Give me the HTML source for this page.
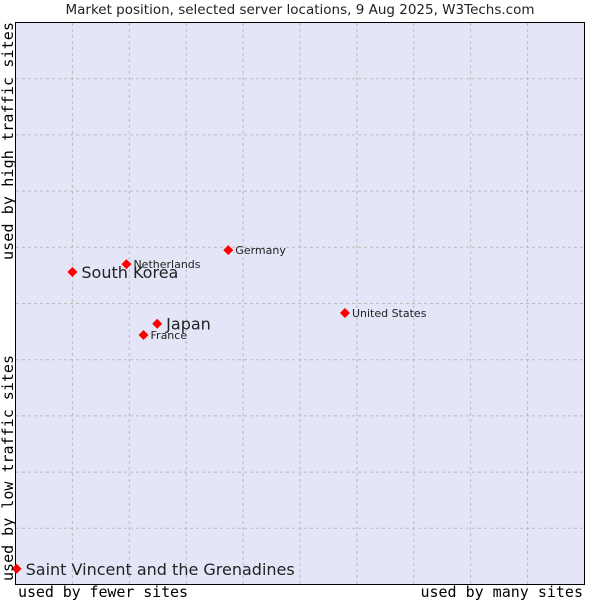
<!DOCTYPE html>
<html><head><meta charset="utf-8"><style>
body{margin:0;background:#fff;width:600px;height:600px;overflow:hidden}
svg text{font-family:"DejaVu Sans","Liberation Sans",sans-serif}
.mono{font-family:"DejaVu Sans Mono","Liberation Mono",monospace !important;font-size:15px}
</style></head><body>
<svg id="c" width="600" height="600">
<text x="300" y="14" text-anchor="middle" font-size="13.5" fill="#222">Market position, selected server locations, 9 Aug 2025, W3Techs.com</text>
<rect x="15.5" y="22.5" width="569" height="562" fill="#e4e6f8" stroke="#000"/>
<g id="grid"></g>
<g id="pts"></g>
<text class="mono" transform="translate(13,260) rotate(-90)" fill="#000" textLength="238">used by high traffic sites</text>
<text class="mono" transform="translate(13,581) rotate(-90)" fill="#000" textLength="226">used by low traffic sites</text>
<text class="mono" x="18" y="597" fill="#000" textLength="170">used by fewer sites</text>
<text class="mono" x="583" y="597" text-anchor="end" fill="#000">used by many sites</text>
</svg>
<script>
const names=["Saint Vincent and the Grenadines","South Korea","Netherlands","Germany","Japan","France","United States"];
const xVals=[0.2,10,19.5,37.4,24.9,22.5,57.9];
const yVals=[2.8,55.6,57,59.5,46.4,44.4,48.3];
const big=[true,true,false,false,true,false,false];
const X=v=>15.5+v/100*569, Y=v=>584.5-v/100*562;
const NS="http://www.w3.org/2000/svg";
const g=document.getElementById('grid');
for(let i=1;i<10;i++){
 let l=document.createElementNS(NS,'line');
 
 
 l.setAttribute('x1',X(i*10));l.setAttribute('x2',X(i*10));l.setAttribute('y1',23);l.setAttribute('y2',584);
 l.setAttribute('stroke','#bbb');l.setAttribute('stroke-dasharray','3,3');g.appendChild(l);
 let h=document.createElementNS(NS,'line');
 
 
 h.setAttribute('y1',Y(i*10));h.setAttribute('y2',Y(i*10));h.setAttribute('x1',16);h.setAttribute('x2',584);
 h.setAttribute('stroke','#bbb');h.setAttribute('stroke-dasharray','3,3');g.appendChild(h);
}
const p=document.getElementById('pts');
names.forEach((n,i)=>{
 const x=X(xVals[i]),y=Y(yVals[i]);
 let d=document.createElementNS(NS,'path');
 
 
 d.setAttribute('d',`M${x},${y-5}L${x+5},${y}L${x},${y+5}L${x-5},${y}Z`);
 d.setAttribute('fill','#f00');p.appendChild(d);
 let t=document.createElementNS(NS,'text');
 
 
 t.setAttribute('x',x+(big[i]?9:7));t.setAttribute('y',y+(big[i]?6:4));
 t.setAttribute('font-size',big[i]?16:11);t.setAttribute('fill','#222');
 t.textContent=n;p.appendChild(t);
});
</script>
</body></html>
